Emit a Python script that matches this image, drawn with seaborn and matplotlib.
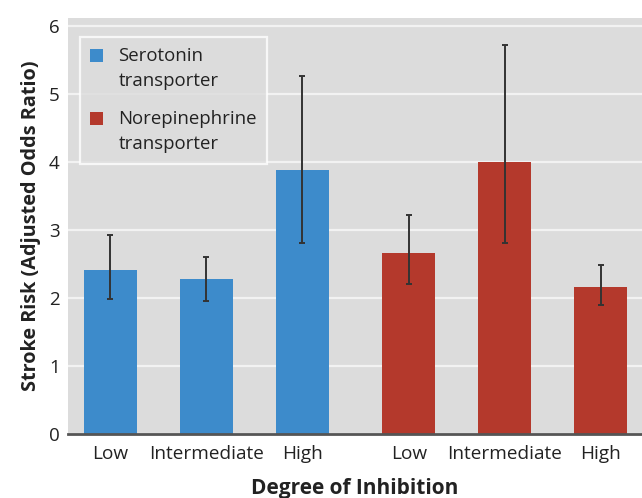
"""Stroke risk by degree of reuptake inhibition"""

import matplotlib.pyplot as plt
from matplotlib.legend_handler import HandlerPatch
from matplotlib.patches import Rectangle
import numpy as np
import pandas as pd
import seaborn as sns

levels = ["Low", "Intermediate", "High"]
transporters = ["Serotonin\ntransporter", "Norepinephrine\ntransporter"]

serotonin_or = [2.41, 2.28, 3.88]
serotonin_lo = [1.99, 1.96, 2.81]
serotonin_hi = [2.92, 2.60, 5.26]

norepi_or = [2.66, 4.00, 2.16]
norepi_lo = [2.21, 2.81, 1.90]
norepi_hi = [3.22, 5.72, 2.49]

colors = ["#3d8bcb", "#b4392c"]

sns.set_theme(style="darkgrid")
plt.rcParams["font.family"] = ["Open Sans", "DejaVu Sans"]

# layout: two groups of three bars with a slightly wider gap between groups
group_gap = 1.11
pos = np.r_[np.arange(3), np.arange(3) + 2 + group_gap]

df = pd.DataFrame({
    "pos": pos,
    "level": levels * 2,
    "transporter": [transporters[0]] * 3 + [transporters[1]] * 3,
    "odds": serotonin_or + norepi_or,
    "lo": serotonin_lo + norepi_lo,
    "hi": serotonin_hi + norepi_hi,
})

fig = plt.figure(figsize=(6.42, 4.98), dpi=100)
ax = fig.add_axes([0.106, 0.1285, 0.894, 0.8355])
ax.set_facecolor("#dcdcdc")

sns.barplot(data=df, x="pos", y="odds", hue="transporter", palette=colors,
            native_scale=True, dodge=False, width=0.55, errorbar=None,
            saturation=1, linewidth=0, ax=ax, zorder=2)

ax.errorbar(df["pos"], df["odds"],
            yerr=[df["odds"] - df["lo"], df["hi"] - df["odds"]],
            fmt="none", ecolor="#333333", elinewidth=1.4, capsize=2.5,
            capthick=1.4, zorder=3)

ax.set_xlim(pos[0] - 0.44, pos[-1] + 0.43)
ax.set_ylim(0, 6.12)
ax.set_yticks(range(7))
ax.set_xticks(pos)
ax.set_xticklabels(df["level"])
ax.grid(axis="x", visible=False)
ax.grid(axis="y", color="#f2f2f2", linewidth=1.6)
ax.tick_params(axis="x", labelsize=13.7, colors="#222222", length=0, pad=8)
ax.tick_params(axis="y", labelsize=13.5, colors="#222222", length=0, pad=6)

for side in ["top", "right", "left"]:
    ax.spines[side].set_visible(False)
ax.spines["bottom"].set_visible(True)
ax.spines["bottom"].set_color("#555555")
ax.spines["bottom"].set_linewidth(2)

ax.set_xlabel("Degree of Inhibition", fontsize=15, fontweight="bold",
              color="#222222", labelpad=11)
ax.set_ylabel("Stroke Risk (Adjusted Odds Ratio)", fontsize=14.3,
              fontweight="bold", color="#222222", labelpad=6)


def top_square(legend, orig_handle, xdescent, ydescent, width, height, fontsize):
    # put the colour square beside the first line of a two-line label
    return Rectangle((-xdescent, -ydescent + 0.74 * fontsize), width, height)


handles, labels = ax.get_legend_handles_labels()
leg = ax.legend(handles, labels, loc="upper left",
                bbox_to_anchor=(0.021, 0.955), borderaxespad=0, fontsize=13.4,
                frameon=True, facecolor="#dcdcdc", edgecolor="white",
                fancybox=False, handlelength=0.7, handleheight=0.7,
                labelspacing=1.1, borderpad=0.55, handletextpad=0.8,
                handler_map={h: HandlerPatch(patch_func=top_square) for h in handles})
leg.get_frame().set_linewidth(1.6)
for t in leg.get_texts():
    t.set_color("#222222")
    t.set_linespacing(1.5)

fig.savefig("out.png", dpi=100)
plt.close(fig)
